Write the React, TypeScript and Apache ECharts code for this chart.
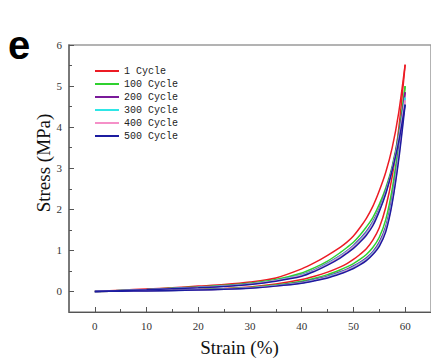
import React, { useEffect, useRef } from "react";
import * as echarts from "echarts";

const STRAIN = [0, 5, 10, 15, 20, 25, 30, 35, 40, 42.5, 45, 47.5, 48.75, 50, 51.25, 52.5, 53.75, 55, 56.25, 57.5, 58.75, 60];

const CYCLE_NAMES = ["1 Cycle", "100 Cycle", "200 Cycle", "300 Cycle", "400 Cycle", "500 Cycle"];
const CYCLE_COLORS = ["#ec1b24", "#2fd12f", "#7a1a9a", "#2ee6e6", "#f590c8", "#1c1ca0"];

// loading (upper) branches
const LOAD_1 = [0, 0.03, 0.06, 0.09, 0.13, 0.17, 0.23, 0.33, 0.55, 0.7, 0.88, 1.08, 1.2, 1.35, 1.55, 1.78, 2.07, 2.45, 2.9, 3.5, 4.35, 5.52];
const LOAD_100 = [0, 0.025, 0.05, 0.08, 0.11, 0.15, 0.2, 0.29, 0.45, 0.58, 0.74, 0.95, 1.07, 1.2, 1.37, 1.57, 1.8, 2.12, 2.52, 3.05, 3.85, 5.0];
const LOAD_200 = [0, 0.022, 0.045, 0.072, 0.1, 0.135, 0.185, 0.27, 0.41, 0.53, 0.69, 0.88, 0.99, 1.12, 1.28, 1.46, 1.7, 2.02, 2.45, 3.0, 3.78, 4.85];
const LOAD_300 = [0, 0.021, 0.043, 0.07, 0.097, 0.13, 0.18, 0.265, 0.4, 0.515, 0.675, 0.865, 0.975, 1.1, 1.255, 1.43, 1.67, 1.99, 2.42, 2.97, 3.72, 4.72];
const LOAD_400 = [0, 0.02, 0.042, 0.068, 0.094, 0.126, 0.176, 0.258, 0.39, 0.505, 0.66, 0.85, 0.96, 1.08, 1.23, 1.4, 1.64, 1.97, 2.4, 2.96, 3.68, 4.65];
const LOAD_500 = [0, 0.02, 0.04, 0.065, 0.09, 0.12, 0.17, 0.25, 0.37, 0.49, 0.64, 0.82, 0.93, 1.05, 1.2, 1.37, 1.6, 1.95, 2.38, 2.95, 3.64, 4.55];

// unloading (lower) branches
const UNLOAD_1 = [0, 0.01, 0.02, 0.035, 0.05, 0.075, 0.11, 0.18, 0.29, 0.37, 0.47, 0.6, 0.68, 0.78, 0.9, 1.04, 1.25, 1.55, 2.05, 2.8, 3.95, 5.52];
const UNLOAD_100 = [0, 0.008, 0.018, 0.03, 0.045, 0.065, 0.095, 0.155, 0.25, 0.32, 0.41, 0.53, 0.6, 0.68, 0.78, 0.9, 1.07, 1.32, 1.75, 2.5, 3.6, 5.0];
const UNLOAD_200 = [0, 0.006, 0.015, 0.026, 0.04, 0.058, 0.087, 0.142, 0.225, 0.29, 0.37, 0.48, 0.545, 0.62, 0.71, 0.82, 0.97, 1.2, 1.58, 2.3, 3.4, 4.85];
const UNLOAD_300 = [0, 0.006, 0.014, 0.025, 0.038, 0.056, 0.084, 0.138, 0.215, 0.28, 0.355, 0.46, 0.525, 0.6, 0.69, 0.79, 0.94, 1.16, 1.53, 2.23, 3.32, 4.72];
const UNLOAD_400 = [0, 0.005, 0.013, 0.023, 0.036, 0.054, 0.082, 0.134, 0.207, 0.27, 0.342, 0.445, 0.51, 0.58, 0.67, 0.77, 0.92, 1.13, 1.49, 2.18, 3.26, 4.65];
const UNLOAD_500 = [0, 0.005, 0.012, 0.022, 0.035, 0.052, 0.08, 0.13, 0.2, 0.26, 0.33, 0.43, 0.49, 0.56, 0.645, 0.75, 0.9, 1.1, 1.45, 2.15, 3.2, 4.55];

const LOADS = [LOAD_1, LOAD_100, LOAD_200, LOAD_300, LOAD_400, LOAD_500];
const UNLOADS = [UNLOAD_1, UNLOAD_100, UNLOAD_200, UNLOAD_300, UNLOAD_400, UNLOAD_500];

const X_TICKS = [0, 10, 20, 30, 40, 50, 60];
const X_MINOR = [5, 15, 25, 35, 45, 55];
const Y_TICKS = [0, 1, 2, 3, 4, 5, 6];
const Y_MINOR = [0.5, 1.5, 2.5, 3.5, 4.5, 5.5];

const SERIF = "Liberation Serif";

export default function App() {
  const ref = useRef<HTMLDivElement>(null);
  useEffect(() => {
    if (!ref.current) return;
    const chart = echarts.init(ref.current, null, { renderer: "svg" });
    const series: any[] = [];
    CYCLE_NAMES.forEach((name, i) => {
      [LOADS[i], UNLOADS[i]].forEach((arr) => {
        series.push({
          type: "line",
          name,
          xAxisIndex: 0,
          yAxisIndex: 0,
          data: STRAIN.map((s, k) => [s, arr[k]]),
          smooth: 0.3,
          showSymbol: false,
          symbol: "none",
          color: CYCLE_COLORS[i],
          lineStyle: { width: 1.5, color: CYCLE_COLORS[i] },
        });
      });
    });
    const axisCommon = { min: -5, max: 65, type: "value" as const };
    const yCommon = { min: -0.5, max: 6, type: "value" as const };
    chart.setOption({
      animation: false,
      backgroundColor: "#fff",
      grid: {
        left: 69,
        top: 45,
        width: 366,
        height: 267,
        show: true,
        borderColor: "#9a9a9a",
        borderWidth: 1.5,
        backgroundColor: "transparent",
      },
      legend: {
        orient: "vertical",
        left: 95,
        top: 65,
        padding: 0,
        icon: "rect",
        itemWidth: 24,
        itemHeight: 2,
        itemGap: 1,
        data: CYCLE_NAMES,
        textStyle: {
          fontFamily: "Liberation Mono",
          fontSize: 10,
          color: "#222",
          lineHeight: 12,
          padding: [0, 0, 0, 0],
        },
      },
      xAxis: [
        {
          ...axisCommon,
          position: "bottom",
          axisLine: { show: true, onZero: false, lineStyle: { color: "#555", width: 1 } },
          axisTick: { show: true, inside: true, length: 5, customValues: X_TICKS, lineStyle: { color: "#555" } },
          axisLabel: {
            customValues: X_TICKS,
            margin: 8,
            fontSize: 11,
            color: "#333",
            fontFamily: SERIF,
          },
          splitLine: { show: false },
        },
        {
          ...axisCommon,
          position: "bottom",
          axisLine: { show: false, onZero: false },
          axisTick: { show: true, inside: true, length: 3, customValues: X_MINOR, lineStyle: { color: "#555" } },
          axisLabel: { show: false },
          splitLine: { show: false },
        },
      ],
      yAxis: [
        {
          ...yCommon,
          position: "left",
          axisLine: { show: true, onZero: false, lineStyle: { color: "#666", width: 1.5 } },
          axisTick: { show: true, inside: true, length: 5, customValues: Y_TICKS, lineStyle: { color: "#555" } },
          axisLabel: {
            customValues: Y_TICKS,
            margin: 7,
            fontSize: 11,
            color: "#333",
            fontFamily: SERIF,
          },
          splitLine: { show: false },
        },
        {
          ...yCommon,
          position: "left",
          axisLine: { show: false, onZero: false },
          axisTick: { show: true, inside: true, length: 3, customValues: Y_MINOR, lineStyle: { color: "#555" } },
          axisLabel: { show: false },
          splitLine: { show: false },
        },
      ],
      graphic: [
        {
          type: "text",
          x: 8,
          y: 45,
          style: {
            text: "e",
            font: 'bold 40px "Liberation Sans", Arial, sans-serif',
            fill: "#000",
            align: "left",
            verticalAlign: "middle",
          },
        },
        {
          type: "text",
          x: 239.5,
          y: 347,
          style: {
            text: "Strain (%)",
            font: '19px "Liberation Serif", serif',
            fill: "#111",
            align: "center",
            verticalAlign: "middle",
          },
        },
        {
          type: "text",
          x: 43,
          y: 163,
          rotation: Math.PI / 2,
          style: {
            text: "Stress (MPa)",
            font: '19px "Liberation Serif", serif',
            fill: "#111",
            align: "center",
            verticalAlign: "middle",
          },
        },
      ],
      series,
    });
    return () => chart.dispose();
  }, []);
  return <div ref={ref} style={{ width: 431, height: 360, position: "absolute", left: 0, top: 0 }} />;
}
